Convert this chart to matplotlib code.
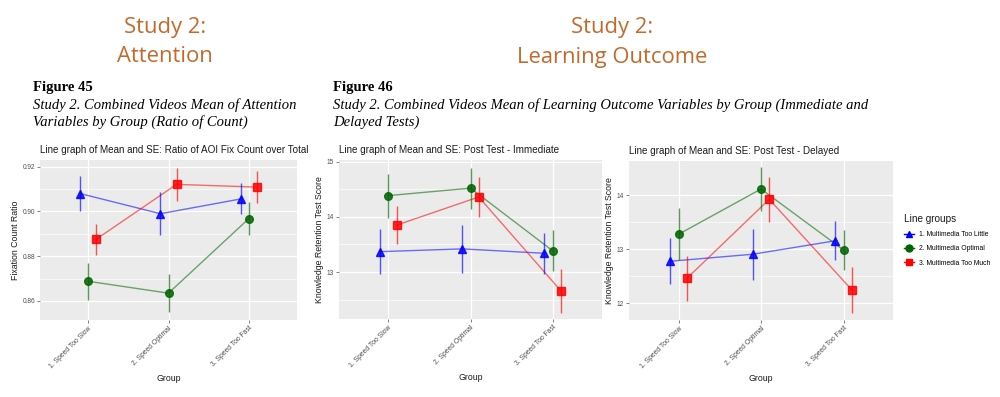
import numpy as np
import matplotlib
matplotlib.use("Agg")
import matplotlib.pyplot as plt
from matplotlib.lines import Line2D

plt.rcParams['font.family'] = ['Liberation Sans', 'DejaVu Sans']

categories = ["1. Speed Too Slow", "2. Speed Optimal", "3. Speed Too Fast"]
groups = ["1. Multimedia Too Little", "2. Multimedia Optimal", "3. Multimedia Too Much"]

# Panel 1: Ratio of AOI Fix Count over Total
attn_mean_little = [0.9080, 0.8990, 0.9056]
attn_se_little = [0.0078, 0.0095, 0.0069]
attn_mean_optimal = [0.8688, 0.8635, 0.8968]
attn_se_optimal = [0.0083, 0.0085, 0.0075]
attn_mean_much = [0.8876, 0.9121, 0.9109]
attn_se_much = [0.0069, 0.0075, 0.0073]

# Panel 2: Post Test - Immediate
imm_mean_little = [13.37, 13.42, 13.34]
imm_se_little = [0.41, 0.43, 0.37]
imm_mean_optimal = [14.385, 14.52, 13.385]
imm_se_optimal = [0.40, 0.37, 0.37]
imm_mean_much = [13.85, 14.36, 12.66]
imm_se_much = [0.34, 0.36, 0.40]

# Panel 3: Post Test - Delayed
del_mean_little = [12.78, 12.91, 13.16]
del_se_little = [0.43, 0.47, 0.36]
del_mean_optimal = [13.28, 14.12, 12.99]
del_se_optimal = [0.48, 0.40, 0.37]
del_mean_much = [12.46, 13.93, 12.25]
del_se_much = [0.42, 0.42, 0.43]

colors = ["#0000FF", "#006400", "#FF0000"]
markers = ["^", "o", "s"]
dodge = [-0.1, 0.0, 0.1]

W, H = 1000, 397
fig = plt.figure(figsize=(W / 100, H / 100), dpi=100)
fig.patch.set_facecolor("white")


def px_axes(x0, y0, x1, y1):
    return fig.add_axes([x0 / W, 1 - y1 / H, (x1 - x0) / W, (y1 - y0) / H])


def draw_panel(ax, means, ses, title, ylabel, ylim, yticks, yticklabels, yminor):
    ax.set_facecolor("#EBEBEB")
    for s in ax.spines.values():
        s.set_visible(False)
    x = np.arange(1, len(categories) + 1)
    ax.set_xlim(0.4, 3.6)
    ax.set_ylim(*ylim)
    for yv in yminor:
        ax.axhline(yv, color="white", lw=0.45, zorder=0)
    for yv in yticks:
        ax.axhline(yv, color="white", lw=0.9, zorder=0)
    for xv in x:
        ax.axvline(xv, color="white", lw=0.9, zorder=0)
    for m, s, c, mk, d in zip(means, ses, colors, markers, dodge):
        xs = x + d
        ax.plot(xs, m, color=c, lw=1.0, alpha=0.55, zorder=2)
        ax.errorbar(xs, m, yerr=s, fmt="none", ecolor=c, elinewidth=1.0,
                    capsize=0, alpha=0.65, zorder=3)
        ax.plot(xs, m, linestyle="none", marker=mk, color=c, markersize=5.5,
                alpha=0.85, zorder=4)
    ax.set_xticks(x)
    ax.set_xticklabels(categories, rotation=45, ha="right", rotation_mode="anchor",
                       fontsize=4.9, color="#4D4D4D")
    ax.set_yticks(yticks)
    ax.set_yticklabels(yticklabels, fontsize=4.7, color="#4D4D4D")
    ax.tick_params(axis="both", length=2, width=0.5, color="#4D4D4D", pad=1.5)
    ax.set_title(title, fontsize=7.1, loc="left", pad=5, color="#1A1A1A")
    ax.set_ylabel(ylabel, fontsize=6.3, color="#1A1A1A", labelpad=2)
    ax.set_xlabel("Group", fontsize=6.3, color="#1A1A1A", labelpad=3)


ax1 = px_axes(40, 160, 297, 320)
draw_panel(ax1,
           [attn_mean_little, attn_mean_optimal, attn_mean_much],
           [attn_se_little, attn_se_optimal, attn_se_much],
           "Line graph of Mean and SE: Ratio of AOI Fix Count over Total",
           "Fixation Count Ratio",
           (0.8515, 0.923), [0.86, 0.88, 0.90, 0.92],
           ["0.86", "0.88", "0.90", "0.92"], [0.87, 0.89, 0.91])

ax2 = px_axes(339, 160, 602, 319)
draw_panel(ax2,
           [imm_mean_little, imm_mean_optimal, imm_mean_much],
           [imm_se_little, imm_se_optimal, imm_se_much],
           "Line graph of Mean and SE: Post Test - Immediate",
           "Knowledge Retention Test Score",
           (12.15, 15.03), [13, 14, 15], ["13", "14", "15"], [12.5, 13.5, 14.5])

ax3 = px_axes(629, 161, 893, 320)
draw_panel(ax3,
           [del_mean_little, del_mean_optimal, del_mean_much],
           [del_se_little, del_se_optimal, del_se_much],
           "Line graph of Mean and SE: Post Test - Delayed",
           "Knowledge Retention Test Score",
           (11.69, 14.64), [12, 13, 14], ["12", "13", "14"], [12.5, 13.5])

handles = [Line2D([0], [0], color=c, marker=mk, markersize=5, lw=1.0)
           for c, mk in zip(colors, markers)]
leg = fig.legend(handles, groups, loc="upper left",
                 bbox_to_anchor=(898 / W, 1 - 208 / H), frameon=False,
                 fontsize=4.9, title="Line groups", title_fontsize=7.2,
                 handlelength=1.4, handletextpad=0.8, labelspacing=1.05,
                 alignment="left")
leg.get_title().set_color("#1A1A1A")

orange = "#C5692B"
for cx, l1, l2 in [(165, "Study 2:", "Attention"), (612, "Study 2:", "Learning Outcome")]:
    fig.text(cx / W, 1 - 27 / H, l1, fontsize=15.8, color=orange, ha="center",
             va="center", family=["Open Sans", "DejaVu Sans"])
    fig.text(cx / W, 1 - 57 / H, l2, fontsize=15.8, color=orange, ha="center",
             va="center", family=["Open Sans", "DejaVu Sans"])

serif = ["Liberation Serif", "DejaVu Serif"]
fs = 10.5
fig.text(33 / W, 1 - 87 / H, "Figure 45", fontsize=fs, weight="bold",
         family=serif, va="center")
fig.text(33 / W, 1 - 105 / H, "Study 2. Combined Videos Mean of Attention",
         fontsize=fs, style="italic", family=serif, va="center")
fig.text(33 / W, 1 - 122 / H, "Variables by Group (Ratio of Count)",
         fontsize=fs, style="italic", family=serif, va="center")
fig.text(333 / W, 1 - 87 / H, "Figure 46", fontsize=fs, weight="bold",
         family=serif, va="center")
fig.text(333 / W, 1 - 105 / H,
         "Study 2. Combined Videos Mean of Learning Outcome Variables by Group (Immediate and",
         fontsize=fs, style="italic", family=serif, va="center")
fig.text(333 / W, 1 - 122 / H, "Delayed Tests)", fontsize=fs, style="italic",
         family=serif, va="center")

fig.savefig("out.png", dpi=100, facecolor="white")
